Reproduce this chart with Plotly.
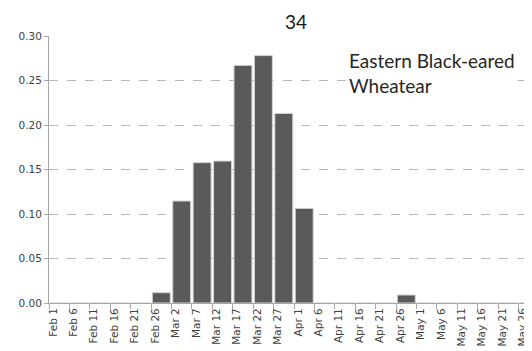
import plotly.graph_objects as go

categories = ["Feb 1", "Feb 6", "Feb 11", "Feb 16", "Feb 21", "Feb 26",
              "Mar 2", "Mar 7", "Mar 12", "Mar 17", "Mar 22", "Mar 27",
              "Apr 1", "Apr 6", "Apr 11", "Apr 16", "Apr 21", "Apr 26",
              "May 1", "May 6", "May 11", "May 16", "May 21", "May 26"]
values = [0, 0, 0, 0, 0, 0.0116,
          0.1146, 0.1577, 0.1595, 0.267, 0.278, 0.213,
          0.1063, 0, 0, 0, 0, 0.009,
          0, 0, 0, 0, 0, 0]
y_ticks = [0, 0.05, 0.10, 0.15, 0.20, 0.25, 0.30]
title_text = "34"
species = "Eastern Black-eared<br>Wheatear"

fig = go.Figure()
fig.add_trace(go.Bar(
    x=categories, y=values,
    marker=dict(color="#5a5a5a", line=dict(color="#d4d4d4", width=1)),
))

fig.update_layout(
    width=532, height=351,
    margin=dict(l=41, r=1, t=28, b=56),
    paper_bgcolor="white", plot_bgcolor="white",
    bargap=0.12,
    showlegend=False,
    font=dict(family="DejaVu Sans", size=10, color="#404040"),
)
fig.update_xaxes(
    type="category", categoryorder="array", categoryarray=categories,
    range=[-0.5, len(categories) - 0.5],
    tickson="boundaries", ticks="outside", ticklen=5, tickcolor="#a6a6a6",
    tickangle=-90, ticklabelshift=-6,
    showline=True, linecolor="#a6a6a6", linewidth=1,
    showgrid=False, tickfont=dict(family="DejaVu Sans", size=10.5, color="#404040"),
)
fig.update_yaxes(
    range=[0, 0.30], tickvals=y_ticks, tickformat=".2f",
    ticks="outside", ticklen=4, tickcolor="#a6a6a6",
    showline=True, linecolor="#a6a6a6", linewidth=1,
    showgrid=True, gridcolor="#b8b8b8", griddash="dash", gridwidth=1,
    zeroline=False,
    tickfont=dict(family="DejaVu Sans", size=10.5, color="#404040"),
)
fig.add_annotation(
    text=title_text, xref="paper", yref="paper", x=0.505, y=1.054,
    xanchor="center", yanchor="middle", showarrow=False,
    font=dict(family="Lato", size=19, color="#1a1a1a"),
)
fig.add_annotation(
    text=species, xref="paper", yref="paper", x=0.607, y=0.86,
    xanchor="left", yanchor="middle", align="left", showarrow=False,
    bgcolor="white", borderpad=2,
    font=dict(family="Lato", size=19, color="#262626"),
)
fig.write_html("out.html")
